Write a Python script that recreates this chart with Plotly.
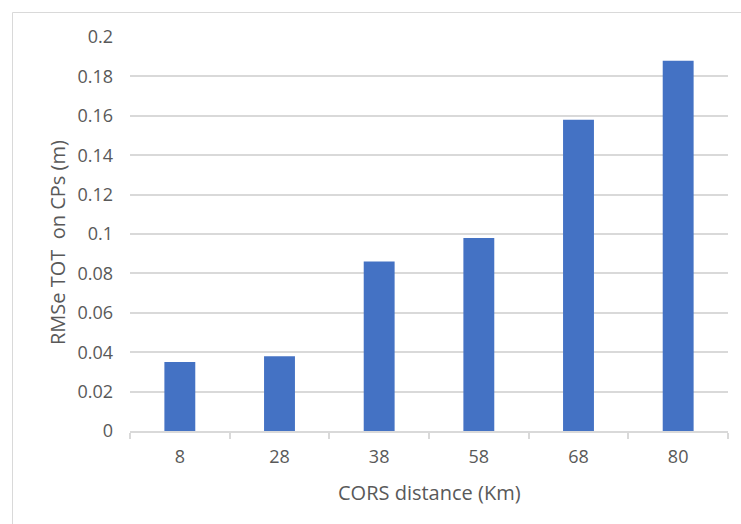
import plotly.graph_objects as go

categories = ["8", "28", "38", "58", "68", "80"]
rmse_values = [0.035, 0.038, 0.086, 0.098, 0.158, 0.188]
y_ticks = [0, 0.02, 0.04, 0.06, 0.08, 0.1, 0.12, 0.14, 0.16, 0.18, 0.2]
y_tick_labels = ["0", "0.02", "0.04", "0.06", "0.08", "0.1", "0.12", "0.14", "0.16", "0.18", "0.2"]

W, H = 741, 524
L, R, T, B = 130, 13, 37, 93
pw, ph = W - L - R, H - T - B

FONT = "Open Sans"
TXT = "#595959"
GRID = "#d9d9d9"
TICK_SIZE = 18
TITLE_SIZE = 20

fig = go.Figure(go.Bar(
    x=categories, y=rmse_values,
    marker=dict(color="#4472C4", line=dict(width=0)),
    width=0.31,
))

def px_x(x):
    return (x - L) / pw

def px_y(y):
    return (H - B - y) / ph

fig.update_layout(
    width=W, height=H,
    margin=dict(l=L, r=R, t=T, b=B),
    paper_bgcolor="white", plot_bgcolor="white",
    showlegend=False,
    font=dict(family=FONT, size=TICK_SIZE, color=TXT),
    xaxis=dict(
        type="category",
        showgrid=False,
        showline=True, linecolor=GRID, linewidth=1.5,
        ticks="outside", tickson="boundaries", ticklen=6, tickcolor=GRID, tickwidth=1.5,
        ticklabelstandoff=9,
        tickfont=dict(family=FONT, size=TICK_SIZE, color=TXT),
    ),
    yaxis=dict(
        range=[0, 0.2],
        tickvals=y_ticks, ticktext=y_tick_labels,
        showgrid=True, gridcolor=GRID, gridwidth=1.5,
        zeroline=False, showline=False,
        ticks="", ticklabelstandoff=16,
        tickfont=dict(family=FONT, size=TICK_SIZE, color=TXT),
    ),
    annotations=[
        dict(text="RMSe TOT  on CPs (m)", xref="paper", yref="paper",
             x=px_x(57), y=px_y(243), textangle=-90, showarrow=False,
             xanchor="center", yanchor="middle",
             font=dict(family=FONT, size=TITLE_SIZE, color=TXT)),
        dict(text="CORS distance (Km)", xref="paper", yref="paper",
             x=px_x(429), y=px_y(492), showarrow=False,
             xanchor="center", yanchor="middle",
             font=dict(family=FONT, size=TITLE_SIZE, color=TXT)),
    ],
    shapes=[
        dict(type="rect", xref="paper", yref="paper",
             x0=px_x(12.5), x1=px_x(760), y0=px_y(540), y1=px_y(12.5),
             line=dict(color=GRID, width=1), fillcolor="rgba(0,0,0,0)", layer="below"),
    ],
)

fig.write_html("out.html", config={"displayModeBar": False},
               post_script="document.body.style.margin='0';document.body.style.overflow='hidden';")
